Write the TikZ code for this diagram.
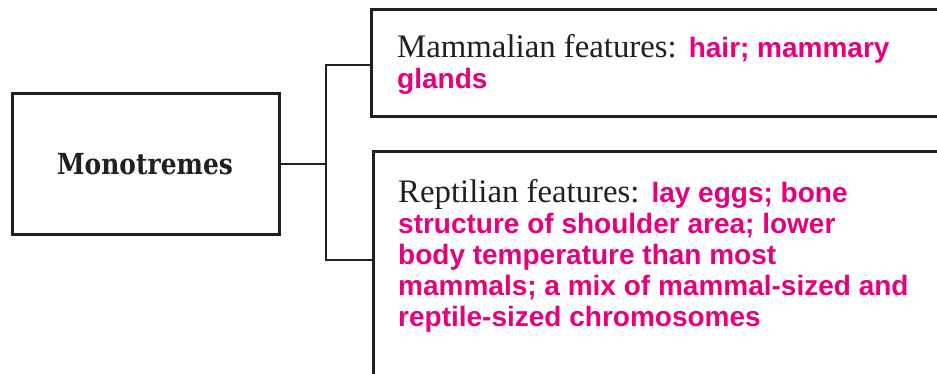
\documentclass[tikz,border=0pt]{standalone}
\usepackage{fontspec}
\setmainfont{Liberation Serif}
\newfontfamily\pinkfamily{Liberation Sans}
\newfontfamily\slabfamily[FakeStretch=0.86]{DejaVu Serif}
\definecolor{ink}{HTML}{231F20}
\definecolor{hot}{HTML}{E6007E}
\newcommand{\hl}[1]{{\pinkfamily\bfseries\fontsize{28}{31}\selectfont\color{hot}#1}}
\tikzset{
  boxline/.style={draw=ink, line width=2.8pt},
  conn/.style={draw=ink, line width=2.8pt},
  bodytext/.style={anchor=base west, align=left, inner sep=0pt, text=ink,
    font=\fontsize{32.8}{31}\selectfont}
}
\begin{document}
\begin{tikzpicture}[x=1pt,y=-1pt]
\useasboundingbox (0,0) rectangle (937,373);
\clip (0,0) rectangle (937,373);
\fill[white] (0,0) rectangle (937,373);
% boxes
\node[boxline, anchor=north west, minimum width=267pt, minimum height=141pt, inner sep=0pt] (mono) at (11,92) {};
\node[font=\slabfamily\bfseries\fontsize{29}{32}\selectfont, text=ink, anchor=base, inner sep=0pt] (monotext) at (145,174) {Monotremes};
\node[boxline, anchor=north west, minimum width=620pt, minimum height=107pt, inner sep=0pt] (box1) at (370,8) {};
\node[boxline, anchor=north west, minimum width=620pt, minimum height=260pt, inner sep=0pt] (box2) at (372,150) {};
% connectors
\coordinate (jt) at (326,65);
\coordinate (jb) at (326,260);
\coordinate (e1) at (370,65);
\coordinate (e2) at (372,260);
\draw[conn] (mono.east) -- (mono.east -| jt);
\draw[conn] (e1) -- (jt) -- (jb) -- (e2);
% texts (anchored at the baseline of the last line)
\node[bodytext] (t1) at (397,88) {Mammalian features:\hspace{12pt}\hl{hair; mammary}\\\hl{glands}};
\node[bodytext] (t2) at (398,326) {Reptilian features:\hspace{12pt}\hl{lay eggs; bone}\\\hl{structure of shoulder area; lower}\\\hl{body temperature than most}\\\hl{mammals; a mix of mammal-sized and}\\\hl{reptile-sized chromosomes}};
\end{tikzpicture}
\end{document}
